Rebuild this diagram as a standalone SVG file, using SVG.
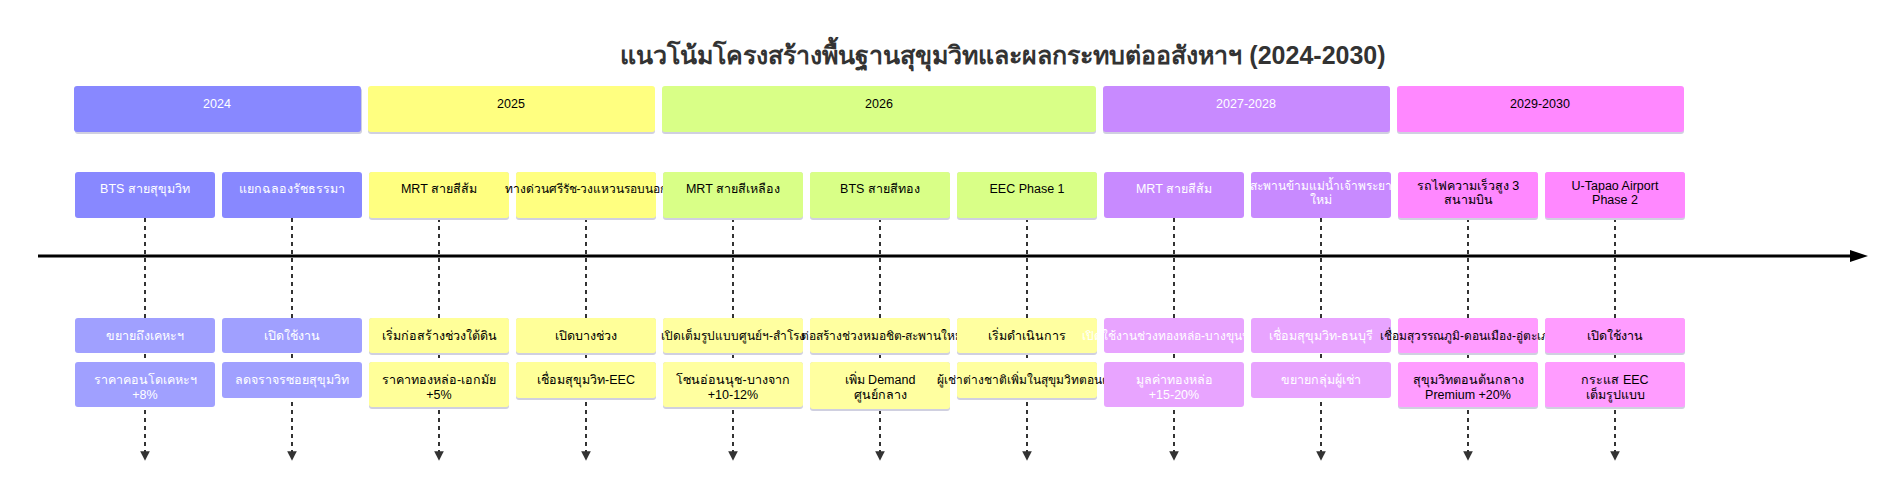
<svg xmlns="http://www.w3.org/2000/svg" width="1904" height="494" viewBox="0 0 1904 494">
<style>
text{font-family:"Liberation Sans","Noto Sans",sans-serif;font-size:12.5px;text-anchor:middle}
.t{font-size:25px;font-weight:bold;fill:#333}
.s{font-size:12px}
.w{fill:#fff}.k{fill:#000}
.sh{fill:#d0d0e0}
.dash{stroke:#000;stroke-width:1.6;stroke-dasharray:4,4;fill:none}
</style>
<defs>
<marker id="ah" markerWidth="6" markerHeight="6" refX="3" refY="3" orient="auto"><path d="M0,0 L6,3 L0,6 z" fill="#333"/></marker>
</defs>
<rect width="1904" height="494" fill="#fff"/>
<text x="1003" y="64" class="t">แนวโน้มโครงสร้างพื้นฐานสุขุมวิทและผลกระทบต่ออสังหาฯ (2024-2030)</text>
<g id="connectors">
<line x1="38" y1="256" x2="1855" y2="256" stroke="#000" stroke-width="3"/>
<path d="M1850,250 L1868,256 L1850,262 z" fill="#000"/>
<g class="dash" marker-end="url(#ah)">
<line x1="145" y1="218" x2="145" y2="456"/><line x1="292" y1="218" x2="292" y2="456"/><line x1="439" y1="218" x2="439" y2="456"/><line x1="586" y1="218" x2="586" y2="456"/><line x1="733" y1="218" x2="733" y2="456"/><line x1="880" y1="218" x2="880" y2="456"/><line x1="1027" y1="218" x2="1027" y2="456"/><line x1="1174" y1="218" x2="1174" y2="456"/><line x1="1321" y1="218" x2="1321" y2="456"/><line x1="1468" y1="218" x2="1468" y2="456"/><line x1="1615" y1="218" x2="1615" y2="456"/>
</g>
</g>
<g id="years">
<g id="y2024"><rect x="75" y="88" width="287" height="46" rx="3" class="sh"/><rect x="74" y="86" width="287" height="46" rx="3" fill="#8888ff"/><text x="217" y="108" class="w">2024</text></g>
<g id="y2025"><rect x="368" y="88" width="287" height="46" rx="3" class="sh"/><rect x="368" y="86" width="287" height="46" rx="3" fill="#ffff80"/><text x="511" y="108" class="k">2025</text></g>
<g id="y2026"><rect x="662" y="88" width="434" height="46" rx="3" class="sh"/><rect x="662" y="86" width="434" height="46" rx="3" fill="#d9ff87"/><text x="879" y="108" class="k">2026</text></g>
<g id="y2027"><rect x="1103" y="88" width="287" height="46" rx="3" class="sh"/><rect x="1103" y="86" width="287" height="46" rx="3" fill="#c88aff"/><text x="1246" y="108" class="w">2027-2028</text></g>
<g id="y2029"><rect x="1397" y="88" width="287" height="46" rx="3" class="sh"/><rect x="1397" y="86" width="287" height="46" rx="3" fill="#ff88ff"/><text x="1540" y="108" class="k">2029-2030</text></g>
</g>
<g id="nodes">
<g id="n1"><rect x="75" y="172" width="140" height="46" rx="3" fill="#8888ff"/><text x="145" y="193" class="w">BTS สายสุขุมวิท</text>
<rect x="75" y="318" width="140" height="35" rx="3" fill="#a0a0ff"/><text x="145" y="340" class="w">ขยายถึงเคหะฯ</text>
<rect x="75" y="362" width="140" height="45" rx="3" fill="#a0a0ff"/><text x="145" y="384" class="w">ราคาคอนโดเคหะฯ</text><text x="145" y="399" class="w">+8%</text></g>
<g id="n2"><rect x="222" y="172" width="140" height="46" rx="3" fill="#8888ff"/><text x="292" y="193" class="w">แยกฉลองรัชธรรมา</text>
<rect x="222" y="318" width="140" height="35" rx="3" fill="#a0a0ff"/><text x="292" y="340" class="w">เปิดใช้งาน</text>
<rect x="222" y="362" width="140" height="36" rx="3" fill="#a0a0ff"/><text x="292" y="384" class="w">ลดจราจรซอยสุขุมวิท</text></g>
<g id="n3"><rect x="369" y="172" width="140" height="48" rx="3" class="sh"/><rect x="369" y="172" width="140" height="46" rx="3" fill="#ffff80"/><text x="439" y="193" class="k">MRT สายสีส้ม</text>
<rect x="369" y="318" width="140" height="37" rx="3" class="sh"/><rect x="369" y="318" width="140" height="35" rx="3" fill="#ffff99"/><text x="439" y="340" class="k">เริ่มก่อสร้างช่วงใต้ดิน</text>
<rect x="369" y="362" width="140" height="47" rx="3" class="sh"/><rect x="369" y="362" width="140" height="45" rx="3" fill="#ffff99"/><text x="439" y="384" class="k">ราคาทองหล่อ-เอกมัย</text><text x="439" y="399" class="k">+5%</text></g>
<g id="n4"><rect x="516" y="172" width="140" height="48" rx="3" class="sh"/><rect x="516" y="172" width="140" height="46" rx="3" fill="#ffff80"/><text x="586" y="193" class="k s">ทางด่วนศรีรัช-วงแหวนรอบนอก</text>
<rect x="516" y="318" width="140" height="37" rx="3" class="sh"/><rect x="516" y="318" width="140" height="35" rx="3" fill="#ffff99"/><text x="586" y="340" class="k">เปิดบางช่วง</text>
<rect x="516" y="362" width="140" height="38" rx="3" class="sh"/><rect x="516" y="362" width="140" height="36" rx="3" fill="#ffff99"/><text x="586" y="384" class="k">เชื่อมสุขุมวิท-EEC</text></g>
<g id="n5"><rect x="663" y="172" width="140" height="48" rx="3" class="sh"/><rect x="663" y="172" width="140" height="46" rx="3" fill="#d9ff87"/><text x="733" y="193" class="k">MRT สายสีเหลือง</text>
<rect x="663" y="318" width="140" height="37" rx="3" class="sh"/><rect x="663" y="318" width="140" height="35" rx="3" fill="#ffffa0"/><text x="733" y="340" class="k s">เปิดเต็มรูปแบบศูนย์ฯ-สำโรง</text>
<rect x="663" y="362" width="140" height="47" rx="3" class="sh"/><rect x="663" y="362" width="140" height="45" rx="3" fill="#ffffa0"/><text x="733" y="384" class="k">โซนอ่อนนุช-บางจาก</text><text x="733" y="399" class="k">+10-12%</text></g>
<g id="n6"><rect x="810" y="172" width="140" height="48" rx="3" class="sh"/><rect x="810" y="172" width="140" height="46" rx="3" fill="#d9ff87"/><text x="880" y="193" class="k">BTS สายสีทอง</text>
<rect x="810" y="318" width="140" height="37" rx="3" class="sh"/><rect x="810" y="318" width="140" height="35" rx="3" fill="#ffffa0"/><text x="882" y="340" class="k s">ต่อสร้างช่วงหมอชิต-สะพานใหม่</text>
<rect x="810" y="362" width="140" height="49" rx="3" class="sh"/><rect x="810" y="362" width="140" height="47" rx="3" fill="#ffffa0"/><text x="880" y="384" class="k">เพิ่ม Demand</text><text x="880" y="399" class="k">ศูนย์กลาง</text></g>
<g id="n7"><rect x="957" y="172" width="140" height="48" rx="3" class="sh"/><rect x="957" y="172" width="140" height="46" rx="3" fill="#d9ff87"/><text x="1027" y="193" class="k">EEC Phase 1</text>
<rect x="957" y="318" width="140" height="37" rx="3" class="sh"/><rect x="957" y="318" width="140" height="35" rx="3" fill="#ffffa0"/><text x="1027" y="340" class="k">เริ่มดำเนินการ</text>
<rect x="957" y="362" width="140" height="38" rx="3" class="sh"/><rect x="957" y="362" width="140" height="36" rx="3" fill="#ffffa0"/><text x="1027" y="384" class="k s">ผู้เช่าต่างชาติเพิ่มในสุขุมวิทตอนต้น</text></g>
<g id="n8"><rect x="1104" y="172" width="140" height="46" rx="3" fill="#c88aff"/><text x="1174" y="193" class="w">MRT สายสีส้ม</text>
<rect x="1104" y="318" width="140" height="35" rx="3" fill="#e8a4ff"/><text x="1174" y="340" class="w s">เปิดใช้งานช่วงทองหล่อ-บางขุนนนท์</text>
<rect x="1104" y="362" width="140" height="45" rx="3" fill="#e8a4ff"/><text x="1174" y="384" class="w">มูลค่าทองหล่อ</text><text x="1174" y="399" class="w">+15-20%</text></g>
<g id="n9"><rect x="1251" y="172" width="140" height="46" rx="3" fill="#c88aff"/><text x="1321" y="190" class="w s">สะพานข้ามแม่น้ำเจ้าพระยา</text><text x="1321" y="204" class="w">ใหม่</text>
<rect x="1251" y="318" width="140" height="35" rx="3" fill="#e8a4ff"/><text x="1321" y="340" class="w">เชื่อมสุขุมวิท-ธนบุรี</text>
<rect x="1251" y="362" width="140" height="36" rx="3" fill="#e8a4ff"/><text x="1321" y="384" class="w">ขยายกลุ่มผู้เช่า</text></g>
<g id="n10"><rect x="1398" y="172" width="140" height="48" rx="3" class="sh"/><rect x="1398" y="172" width="140" height="46" rx="3" fill="#ff88ff"/><text x="1468" y="190" class="k">รถไฟความเร็วสูง 3</text><text x="1468" y="204" class="k">สนามบิน</text>
<rect x="1398" y="318" width="140" height="37" rx="3" class="sh"/><rect x="1398" y="318" width="140" height="35" rx="3" fill="#ff9cff"/><text x="1468" y="340" class="k s">เชื่อมสุวรรณภูมิ-ดอนเมือง-อู่ตะเภา</text>
<rect x="1398" y="362" width="140" height="47" rx="3" class="sh"/><rect x="1398" y="362" width="140" height="45" rx="3" fill="#ff9cff"/><text x="1468" y="384" class="k">สุขุมวิทตอนต้นกลาง</text><text x="1468" y="399" class="k">Premium +20%</text></g>
<g id="n11"><rect x="1545" y="172" width="140" height="48" rx="3" class="sh"/><rect x="1545" y="172" width="140" height="46" rx="3" fill="#ff88ff"/><text x="1615" y="190" class="k">U-Tapao Airport</text><text x="1615" y="204" class="k">Phase 2</text>
<rect x="1545" y="318" width="140" height="37" rx="3" class="sh"/><rect x="1545" y="318" width="140" height="35" rx="3" fill="#ff9cff"/><text x="1615" y="340" class="k">เปิดใช้งาน</text>
<rect x="1545" y="362" width="140" height="47" rx="3" class="sh"/><rect x="1545" y="362" width="140" height="45" rx="3" fill="#ff9cff"/><text x="1615" y="384" class="k">กระแส EEC</text><text x="1615" y="399" class="k">เต็มรูปแบบ</text></g>
</g>
</svg>
